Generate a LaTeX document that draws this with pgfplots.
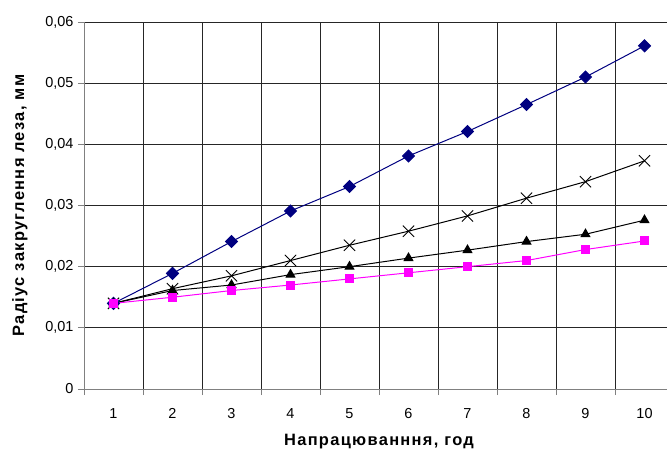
\documentclass[border=0pt]{standalone}
\usepackage{pgfplots}
\pgfplotsset{compat=1.18}
\usepackage{fontspec}
\setmainfont{Liberation Sans}
\newfontfamily\labfont[LetterSpace=8]{Liberation Sans}

\definecolor{navyline}{RGB}{0,0,128}
\definecolor{pinkline}{RGB}{255,0,255}

\pgfplotstableread{
x   diam    cross   tri     sq
1   0.0140  0.0140  0.0140  0.0140
2   0.0189  0.0164  0.0161  0.0150
3   0.0241  0.0185  0.0170  0.0161
4   0.0291  0.0210  0.0187  0.0170
5   0.0331  0.0235  0.0200  0.0180
6   0.0381  0.0258  0.0214  0.0190
7   0.0421  0.0283  0.0227  0.0200
8   0.0465  0.0312  0.0241  0.0210
9   0.0510  0.0339  0.0253  0.0228
10  0.0561  0.0373  0.0276  0.0242
}\datatable

\begin{document}
\begin{tikzpicture}
    \begin{axis}[
        scale only axis,
        width=590bp, height=367bp,
        xmin=0.5, xmax=10.5,
        ymin=0, ymax=0.06,
        axis lines*=left,
        axis line style={gray, line width=0.8bp, -},
        xtick={1,...,10},
        major x tick style={draw=none},
        minor xtick={0.5,1.5,...,10.5},
        minor x tick style={gray, line width=0.8bp},
        minor tick length=6bp,
        xminorgrids=true,
        scaled y ticks=false,
        ytick={0,0.01,...,0.06},
        yticklabels={0,{0,01},{0,02},{0,03},{0,04},{0,05},{0,06}},
        ytick style={gray, line width=0.8bp},
        major tick length=6bp,
        tick align=outside,
        ymajorgrids=true,
        grid style={black!85, line width=0.8bp},
        minor grid style={black!85, line width=0.8bp},
        tick label style={font=\fontsize{14.5}{17}\selectfont},
        /pgf/number format/assume math mode=true,
        xticklabel style={yshift=-10bp},
        yticklabel style={xshift=-1bp},
        xlabel={\bfseries Напрацюванння, год},
        ylabel={\bfseries Радіус закруглення леза, мм},
        label style={font=\labfont\fontsize{16.5}{18}\selectfont},
        xlabel style={yshift=-9bp},
        ylabel style={yshift=11bp},
        clip=false,
    ]
        \addplot[color=navyline, line width=1bp, mark=square*,
            mark size=4.2bp, mark options={solid, rotate=45, fill=navyline}]
            table[x=x, y=diam] {\datatable};
        \addplot[black, line width=1bp, mark=x, mark size=8bp,
            mark options={line width=0.9bp}]
            table[x=x, y=cross] {\datatable};
        \addplot[black, line width=1bp, mark=triangle*, mark size=5bp,
            mark options={fill=black}]
            table[x=x, y=tri] {\datatable};
        \addplot[color=pinkline, line width=1bp, mark=square*, mark size=4bp,
            mark options={fill=pinkline}]
            table[x=x, y=sq] {\datatable};
    \end{axis}
    \pgfresetboundingbox
    \path[use as bounding box] (-84bp,-61bp) rectangle (583bp,389bp);
\end{tikzpicture}
\end{document}
